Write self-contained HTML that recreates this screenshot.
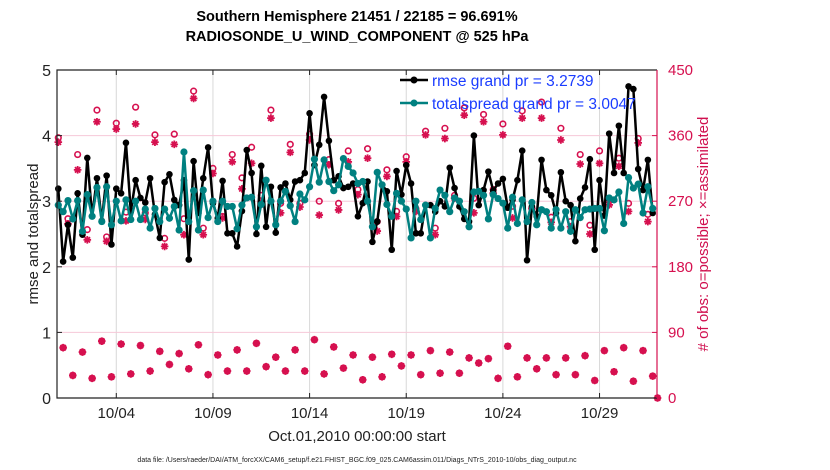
<!DOCTYPE html>
<html><head><meta charset="utf-8"><style>
body{margin:0;background:#fff;}
svg{display:block;font-family:"Liberation Sans",sans-serif;}
</style></head><body>
<svg id="chart" width="830" height="470" viewBox="0 0 830 470">
<g id="grid"></g>
<g id="series"></g>
<g id="axes"></g>
<text x="357" y="21" text-anchor="middle" font-size="14.5" font-weight="bold">Southern Hemisphere 21451 / 22185 = 96.691%</text>
<text x="357" y="41" text-anchor="middle" font-size="14.5" font-weight="bold">RADIOSONDE_U_WIND_COMPONENT @ 525 hPa</text>
<text transform="translate(38,234) rotate(-90)" text-anchor="middle" font-size="15" fill="#222">rmse and totalspread</text>
<text transform="translate(708,234) rotate(-90)" text-anchor="middle" font-size="15" fill="#d0104f"># of obs: o=possible; ×=assimilated</text>
<text x="357" y="441" text-anchor="middle" font-size="15" fill="#222">Oct.01,2010 00:00:00 start</text>
<text x="357" y="462" text-anchor="middle" font-size="7" fill="#222">data file: /Users/raeder/DAI/ATM_forcXX/CAM6_setup/f.e21.FHIST_BGC.f09_025.CAM6assim.011/Diags_NTrS_2010-10/obs_diag_output.nc</text>
<g>
<line x1="400" y1="80" x2="428" y2="80" stroke="#000" stroke-width="2.5"/>
<circle cx="414" cy="80" r="3.5" fill="#000"/>
<text x="432" y="86" font-size="15.5" fill="#1a3cff">rmse grand pr = 3.2739</text>
<line x1="400" y1="103" x2="428" y2="103" stroke="#008080" stroke-width="2.5"/>
<circle cx="414" cy="103" r="3.5" fill="#008080"/>
<text x="432" y="109" font-size="15.5" fill="#1a3cff">totalspread grand pr = 3.0047</text>
</g>
</svg>
<script>
const dayTicks = [3, 8, 13, 18, 23, 28];
const dayTickLabels = ["10/04","10/09","10/14","10/19","10/24","10/29"];
const leftTicks = [0,1,2,3,4,5];
const rightTicks = [0,90,180,270,360,450];
const rmse = [3.19,2.08,2.64,2.14,3.12,2.49,3.66,2.77,3.35,2.70,3.39,2.34,3.19,3.12,3.89,2.84,3.32,3.05,2.98,3.35,2.80,2.44,3.29,3.41,3.02,2.94,3.32,2.11,3.61,2.82,3.35,3.82,2.97,2.74,3.31,2.51,2.51,2.31,2.85,3.78,3.43,2.50,3.54,
2.61,3.22,2.52,3.21,3.27,3.02,3.30,3.32,3.43,4.34,3.55,3.86,4.59,3.92,3.32,3.38,3.20,3.22,3.27,2.77,2.97,3.30,2.38,2.69,3.25,3.15,2.26,3.46,3.10,3.55,3.27,2.51,2.51,2.94,2.94,2.84,3.0,2.92,3.51,3.20,2.92,
2.73,2.69,4.0,2.94,3.17,3.45,3.16,3.27,3.34,2.90,3.02,3.32,3.77,2.10,2.92,2.77,3.63,3.17,3.09,2.82,3.44,3.0,2.94,2.39,3.04,3.21,3.64,2.26,3.32,2.78,4.03,3.43,4.15,3.43,4.75,4.71,3.49,3.17,3.63,2.82];
const spread = [2.94,2.84,3.01,2.73,3.01,2.54,3.10,2.77,3.21,2.69,3.22,2.64,3.0,2.70,3.02,2.72,3.0,2.72,2.88,2.59,2.89,2.69,2.88,2.74,2.92,2.56,3.75,2.69,3.16,2.56,3.17,2.75,3.0,2.69,3.0,2.92,2.92,2.58,2.94,3.05,3.06,2.61,2.95,
3.32,3.0,2.64,3.0,3.15,2.93,2.69,3.11,3.02,3.22,3.64,3.29,3.63,3.30,3.16,3.25,3.65,3.53,3.43,3.27,3.30,3.0,2.61,3.44,3.25,2.95,2.77,3.12,3.0,2.88,2.44,3.0,2.72,2.94,2.44,2.89,3.17,3.09,2.84,3.05,3.0,
2.84,2.61,3.14,3.15,3.09,2.73,3.10,3.04,2.97,2.59,3.06,2.66,3.02,2.69,2.98,2.64,2.87,2.84,2.59,2.87,2.59,2.84,2.54,2.87,2.75,2.87,2.88,2.89,2.89,2.55,3.05,3.02,3.14,2.66,3.36,3.20,3.26,2.82,3.22,2.89];
const possible = [357,69,246,31,334,63,231,27,395,78,221,29,377,74,255,33,399,72,254,37,361,64,219,46,362,61,246,40,421,73,233,32,315,59,249,37,334,66,302,37,344,75,278,43,395,56,267,37,348,66,267,37,362,80,270,33,327,70,267,41,339,59,286,25,342,56,242,29,313,60,256,44,331,59,260,32,366,65,233,34,370,63,278,34,398,55,274,48,389,54,286,27,376,71,263,29,394,55,260,40,406,55,248,32,370,55,242,32,334,58,237,24,339,65,273,36,329,69,267,23,356,65,252,30,0];
const assimilated = [351,69,239,31,313,63,217,27,379,78,215,29,369,74,243,33,376,72,245,37,351,64,208,46,348,61,224,40,411,73,224,32,308,59,247,37,324,66,287,37,322,75,269,43,384,56,254,37,337,66,262,37,354,80,251,33,320,70,258,41,324,59,279,25,329,56,229,29,304,60,249,44,324,59,256,32,361,65,224,34,356,63,274,34,388,55,254,48,379,54,281,27,361,71,247,29,384,55,260,40,384,55,241,32,354,55,235,32,321,58,225,24,322,65,265,36,318,69,256,23,350,65,242,30,0];

const NS="http://www.w3.org/2000/svg";
const X0=57,X1=657,Y0=398,Y1=70;
const stepsPerDay=4;
const x = i => 58.3 + (i/stepsPerDay)*19.33;
const xd = d => 58.3 + d*19.33;
const yL = v => Y0 - (v/5)*(Y0-Y1);
const yR = v => Y0 - (v/450)*(Y0-Y1);
function mk(tag, attrs, parent){const e=document.createElementNS(NS,tag);for(const k in attrs)e.setAttribute(k,attrs[k]);parent.appendChild(e);return e;}
const grid=document.getElementById('grid'), ser=document.getElementById('series'), ax=document.getElementById('axes');
const CR="#d6104f";
dayTicks.forEach((d,k)=>{
  const g=mk('line',{x1:xd(d),x2:xd(d),y1:Y1,y2:Y0,stroke:'#d8d8d8','stroke-width':1},grid);
  
  
  const t=mk('line',{x1:xd(d),x2:xd(d),y1:Y0,y2:Y0-5,stroke:'#222'},ax);
  
  
  const t2=mk('line',{x1:xd(d),x2:xd(d),y1:Y1,y2:Y1+5,stroke:'#222'},ax);
  
  
  const l=mk('text',{x:xd(d),y:418,'text-anchor':'middle','font-size':15,fill:'#222'},ax);
  l.textContent=dayTickLabels[k];
  
  
});
rightTicks.forEach(v=>{
  if(v>0&&v<450){const g=mk('line',{x1:X0,x2:X1,y1:yR(v),y2:yR(v),stroke:'#f6c8d8','stroke-width':1},grid);
  
  }
  const t=mk('line',{x1:X1,x2:X1-5,y1:yR(v),y2:yR(v),stroke:CR},ax);
  
  
  const l=mk('text',{x:X1+11,y:yR(v)+5,'font-size':15,fill:CR},ax);
  l.textContent=v;
  
  
});
leftTicks.forEach(v=>{
  const t=mk('line',{x1:X0,x2:X0+5,y1:yL(v),y2:yL(v),stroke:'#222'},ax);
  
  
  const l=mk('text',{x:X0-6,y:yL(v)+6,'text-anchor':'end','font-size':16,fill:'#222'},ax);
  l.textContent=v;
  
  
});
const fr1=mk('path',{d:`M${X1},${Y1}H${X0}V${Y0}H${X1}`,fill:'none',stroke:'#222','stroke-width':1.2},ax);


const fr2=mk('line',{x1:X1,x2:X1,y1:Y1,y2:Y0,stroke:CR,'stroke-width':1.2},ax);



// obs markers
possible.forEach((v,i)=>{
  const c=mk('circle',{cx:x(i),cy:yR(v),r:2.8,fill:'none',stroke:CR,'stroke-width':1.6},ser);
  
  
});
assimilated.forEach((v,i)=>{
  const cx=x(i),cy=yR(v),s=3.8,d=2.7;
  const p=mk('path',{d:`M${cx-s},${cy}H${cx+s}M${cx},${cy-s}V${cy+s}M${cx-d},${cy-d}L${cx+d},${cy+d}M${cx-d},${cy+d}L${cx+d},${cy-d}`,stroke:CR,'stroke-width':1.8,fill:'none'},ser);
  
  
});
function line(arr,color,name,r){
  const pl=mk('polyline',{points:arr.map((v,i)=>x(i)+','+yL(v)).join(' '),fill:'none',stroke:color,'stroke-width':2.5,'stroke-linejoin':'round'},ser);
  
  
  arr.forEach((v,i)=>{
    const c=mk('circle',{cx:x(i),cy:yL(v),r:r,fill:color},ser);
    
    
  });
}
line(rmse,'#000','rmse',3.3);
line(spread,'#008080','totalspread',3.6);
</script>
</body></html>
